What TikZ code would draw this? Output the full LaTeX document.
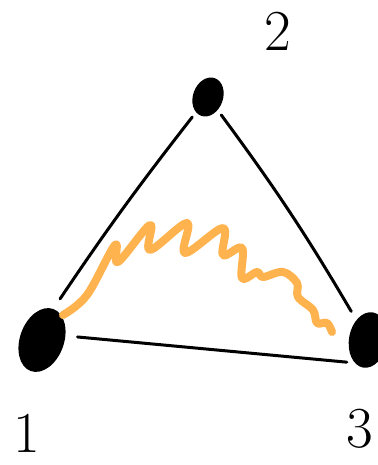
\documentclass[tikz,border=0pt]{standalone}
\usetikzlibrary{shapes.geometric}
\definecolor{wavecol}{HTML}{FFB34F}
\begin{document}
\begin{tikzpicture}[
x=1pt,y=1pt,
vertex/.style={ellipse,fill=black,inner sep=0pt},
edge/.style={line width=3pt,line cap=round},
lab/.style={font=\fontsize{58}{58}\selectfont},
wave/.style={wavecol,line width=8pt,line cap=round,line join=round}
]
\useasboundingbox (0,0) rectangle (377,465);

\node[vertex,minimum width=44,minimum height=66,rotate=-20] (1) at (42,125) {};
\node[vertex,minimum width=30,minimum height=40,rotate=-20] (2) at (208,368) {};
\node[vertex,minimum width=38,minimum height=56,rotate=-10] (3) at (368,125) {};

\node[lab] (l1) at (27,32) {1};
\node[lab] (l2) at (278,434) {2};
\node[lab] (l3) at (360,36) {3};

\draw[edge,shorten <=12pt,shorten >=6pt] (1.north) to[bend left=2] (2);
\draw[edge,shorten <=6pt,shorten >=10pt] (2) to[bend left=3] (3);
\draw[edge,shorten <=12pt,shorten >=8pt] (1.30) -- (3.250);

\draw[wave] plot[smooth,tension=0.6] coordinates {
(63,150) (87,170) (115,220) (118,203) (150,240) (150,215) (187,242) (185,212)
(223,237) (223,210) (242,217) (242,187) (257,193) (263,188) (283,193)
(297,182) (298,168) (313,155) (317,142) (327,142) (332,133)};

\end{tikzpicture}
\end{document}
